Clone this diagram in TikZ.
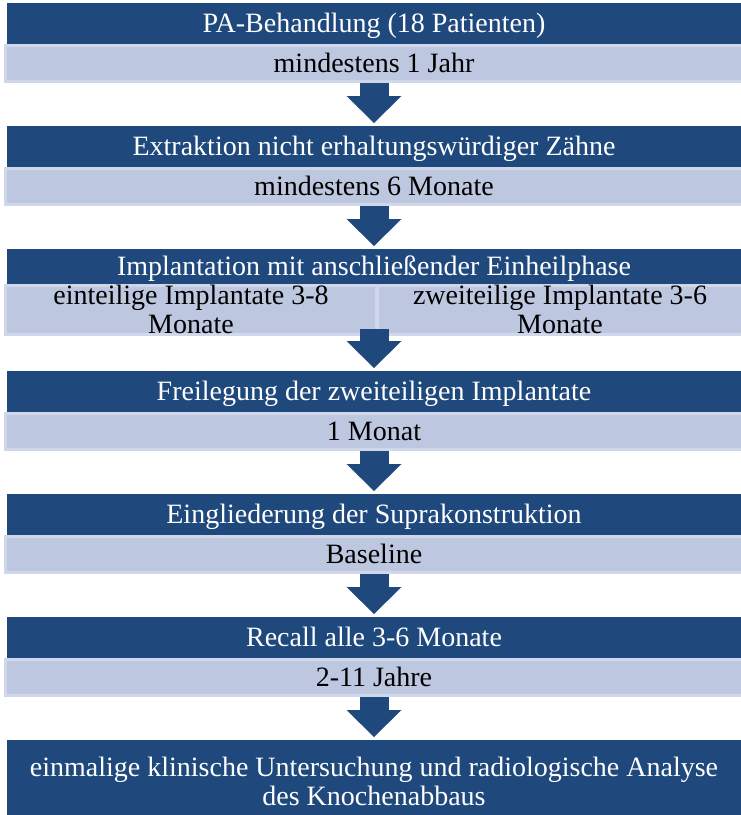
\documentclass[tikz,border=0pt]{standalone}
\usepackage{fontspec}
\setmainfont{Liberation Serif}
\usepackage{xcolor}
\usetikzlibrary{arrows.meta,positioning}
\definecolor{barblue}{RGB}{31,73,125}
\definecolor{barlight}{RGB}{189,199,224}
\definecolor{baredge}{RGB}{209,215,234}

\begin{document}
\begin{tikzpicture}[
    x=0.75pt,y=-0.75pt,
    node distance=32.25pt,
    font=\fontsize{21pt}{21.75pt}\selectfont,
    block/.style={rectangle,fill=barblue,text=white,outer sep=0pt,minimum width=550.5pt,minimum height=30.75pt},
    phase/.style={block,text height=14pt,text depth=0pt},
    span/.style={rectangle,fill=barlight,draw=baredge,line width=2.25pt,minimum width=552.75pt,minimum height=27pt,text height=14pt,text depth=0pt},
    half/.style={rectangle,fill=barlight,draw=baredge,line width=2.25pt,minimum height=35.25pt,inner ysep=0pt,align=center},
    arrow/.style={barblue,line width=21.75pt,-{Triangle[width=41.25pt,length=20.25pt,line width=0pt]},shorten >=2.25pt}
]
\useasboundingbox (0,0) rectangle (741,815);
\node[phase] (pa) at (374,23.5) {PA-Behandlung (18 Patienten)};
\node[span,below=0pt of pa] (jahr) {mindestens 1 Jahr};
\node[phase,below=of jahr] (extr) {Extraktion nicht erhaltungswürdiger Zähne};
\node[span,below=0pt of extr] (monate) {mindestens 6 Monate};
\node[phase,below=of monate,minimum height=26.25pt] (impl) {Implantation mit anschließender Einheilphase};
\node[half,anchor=north west,minimum width=278.25pt] (einteil) at ([xshift=-2.25pt]impl.south west) {einteilige Implantate 3-8\\Monate};
\node[half,anchor=north east,minimum width=273.75pt] (zweiteil) at ([xshift=2.25pt]impl.south east) {zweiteilige Implantate 3-6\\Monate};
\node[phase,below=65.25pt of impl] (frei) {Freilegung der zweiteiligen Implantate};
\node[span,below=0pt of frei] (monat) {1 Monat};
\node[phase,below=of monat] (supra) {Eingliederung der Suprakonstruktion};
\node[span,below=0pt of supra] (base) {Baseline};
\node[phase,below=of base] (recall) {Recall alle 3-6 Monate};
\node[span,below=0pt of recall] (jahre) {2-11 Jahre};
\node[block,below=of jahre,minimum height=62.25pt,align=center] (analyse) {einmalige klinische Untersuchung und radiologische Analyse\\des Knochenabbaus};
\draw[arrow] (jahr) -- (extr);
\draw[arrow] (monate) -- (impl);
\draw[arrow,shorten <=-5.25pt] (impl.south |- einteil.south) -- (frei);
\draw[arrow] (monat) -- (supra);
\draw[arrow] (base) -- (recall);
\draw[arrow] (jahre) -- (analyse);
\end{tikzpicture}
\end{document}
